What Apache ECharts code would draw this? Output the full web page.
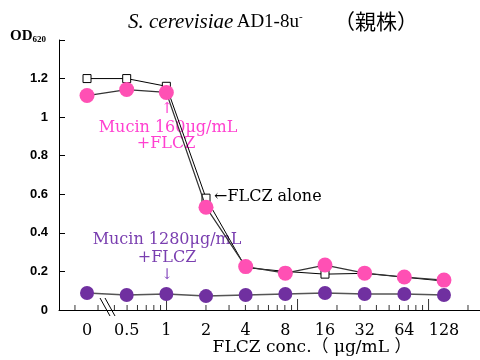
<!DOCTYPE html>
<html><head><meta charset="utf-8">
<script src="https://cdn.jsdelivr.net/npm/echarts@6/dist/echarts.min.js"></script>
</head><body style="margin:0;background:#fff">
<div id="c" style="width:480px;height:360px"></div>
<script>
const categories = ['0', '0.5', '1', '2', '4', '8', '16', '32', '64', '128'];
const flczAlone = [1.20, 1.20, 1.16, 0.58, 0.22, 0.20, 0.186, 0.19, 0.17, 0.15];
const mucin160 = [1.112, 1.143, 1.128, 0.533, 0.225, 0.191, 0.233, 0.191, 0.171, 0.155];
const mucin1280 = [0.088, 0.078, 0.083, 0.072, 0.078, 0.083, 0.088, 0.083, 0.083, 0.078];
const majorTickValues = [1, 10, 100];
const minorTickValues = [0.2, 0.3, 0.4, 0.5, 0.6, 0.7, 0.8, 0.9, 2, 3, 4, 5, 6, 7, 8, 9, 20, 30, 40, 50, 60, 70, 80, 90, 200];

const serif = '"DejaVu Serif", serif';
const times = '"Liberation Serif", serif';
const chart = echarts.init(document.getElementById('c'));
chart.setOption({
  animation: false,
  backgroundColor: '#fff',
  grid: [
    { left: 59, right: 0, top: 40, bottom: 50 },
    { left: 67.2, right: 16.2, top: 40, bottom: 50 }
  ],
  xAxis: [
    { type: 'log', gridIndex: 0, min: 0.1511, max: 247, axisLine: { lineStyle: { color: '#000', width: 1 } },
      axisTick: { show: false }, axisLabel: { show: false }, splitLine: { show: false } },
    { type: 'category', gridIndex: 1, data: categories, boundaryGap: true,
      axisLine: { show: false }, axisTick: { show: false }, splitLine: { show: false },
      axisLabel: { color: '#000', fontFamily: serif, fontSize: 16, margin: 13, interval: 0 } }
  ],
  yAxis: [
    { type: 'value', gridIndex: 0, min: 0, max: 1.4, interval: 0.2,
      axisLine: { show: true, lineStyle: { color: '#000', width: 1 } },
      axisTick: { show: true, inside: true, length: 6, lineStyle: { color: '#000' } },
      splitLine: { show: false },
      axisLabel: { color: '#000', fontFamily: '"Liberation Sans", Arial, sans-serif', fontWeight: 'bold', fontSize: 13, margin: 11,
        formatter: v => (Math.abs(v - 1.4) < 1e-6 ? '' : String(+v.toFixed(1))) } },
    { type: 'value', gridIndex: 1, min: 0, max: 1.4, interval: 0.2, show: false }
  ],
  series: [
    { type: 'scatter', xAxisIndex: 0, yAxisIndex: 0, silent: true, symbol: 'rect', symbolSize: [1, 11], symbolOffset: [0, '-50%'],
      itemStyle: { color: '#000' }, data: majorTickValues.map(v => [v, 0]), z: 1 },
    { type: 'scatter', xAxisIndex: 0, yAxisIndex: 0, silent: true, symbol: 'rect', symbolSize: [1, 5], symbolOffset: [0, '-50%'],
      itemStyle: { color: '#000' }, data: minorTickValues.map(v => [v, 0]), z: 1 },
    { name: 'FLCZ alone', type: 'line', xAxisIndex: 1, yAxisIndex: 1, data: flczAlone, symbol: 'rect', symbolSize: 8,
      itemStyle: { color: '#fff', borderColor: '#000', borderWidth: 1 }, lineStyle: { color: '#000', width: 1 }, z: 3 },
    { name: 'Mucin 1280', type: 'line', xAxisIndex: 1, yAxisIndex: 1, data: mucin1280, symbol: 'circle', symbolSize: 14,
      itemStyle: { color: '#7030a0' }, lineStyle: { color: '#555', width: 1.5 }, z: 4 },
    { name: 'Mucin 160', type: 'line', xAxisIndex: 1, yAxisIndex: 1, data: mucin160, symbol: 'circle', symbolSize: 15,
      itemStyle: { color: '#ff50b4' }, lineStyle: { color: '#333', width: 1.2 }, z: 5 }
  ],
  graphic: [
    { type: 'text', x: 128, y: 22, style: {
      text: '{i|S. cerevisiae} {n|AD1-8u}{s|-}',
      verticalAlign: 'middle',
      rich: {
        i: { fontFamily: times, fontStyle: 'italic', fontSize: 21, fill: '#000' },
        n: { fontFamily: times, fontSize: 19, fill: '#000' },
        s: { fontFamily: times, fontSize: 11, fill: '#000', verticalAlign: 'top' }
      } } },
    { type: 'text', x: 376, y: 21, style: { text: '（親株）', fill: '#000', font: '21px "Noto Sans CJK JP", sans-serif', align: 'center', verticalAlign: 'middle' } },
    { type: 'text', left: 10, top: 29, style: {
      text: '{a|OD}{b|620}',
      rich: {
        a: { fontFamily: times, fontWeight: 'bold', fontSize: 15, fill: '#000' },
        b: { fontFamily: times, fontWeight: 'bold', fontSize: 9, fill: '#000', verticalAlign: 'bottom' }
      } } },
    { type: 'text', x: 167, y: 109, style: { text: '↑', fill: '#ff40d0', font: '15px ' + serif, align: 'center', verticalAlign: 'middle' } },
    { type: 'text', x: 168, y: 128, style: { text: 'Mucin 160μg/mL', fill: '#ff40d0', font: '16px ' + serif, align: 'center', verticalAlign: 'middle' } },
    { type: 'text', x: 166, y: 144, style: { text: '+FLCZ', fill: '#ff40d0', font: '16px ' + serif, align: 'center', verticalAlign: 'middle' } },
    { type: 'text', x: 214, y: 197, style: { text: '←FLCZ alone', fill: '#000', font: '16px ' + serif, align: 'left', verticalAlign: 'middle' } },
    { type: 'text', x: 167, y: 240, style: { text: 'Mucin 1280μg/mL', fill: '#7a3fb0', font: '16px ' + serif, align: 'center', verticalAlign: 'middle' } },
    { type: 'text', x: 167, y: 258, style: { text: '+FLCZ', fill: '#7a3fb0', font: '16px ' + serif, align: 'center', verticalAlign: 'middle' } },
    { type: 'text', x: 167, y: 275, style: { text: '↓', fill: '#8a50c0', font: '15px ' + serif, align: 'center', verticalAlign: 'middle' } },
    { type: 'text', x: 312, y: 348, style: { text: 'FLCZ conc.（ μg/mL ）', fill: '#000', font: '17px "DejaVu Serif", "Noto Sans CJK JP", serif', align: 'center', verticalAlign: 'middle' } },
    { type: 'line', shape: { x1: 100, y1: 298, x2: 110, y2: 316 }, style: { stroke: '#000', lineWidth: 1 } },
    { type: 'line', shape: { x1: 105, y1: 298, x2: 115, y2: 316 }, style: { stroke: '#000', lineWidth: 1 } }
  ]
});
</script>
</body></html>
